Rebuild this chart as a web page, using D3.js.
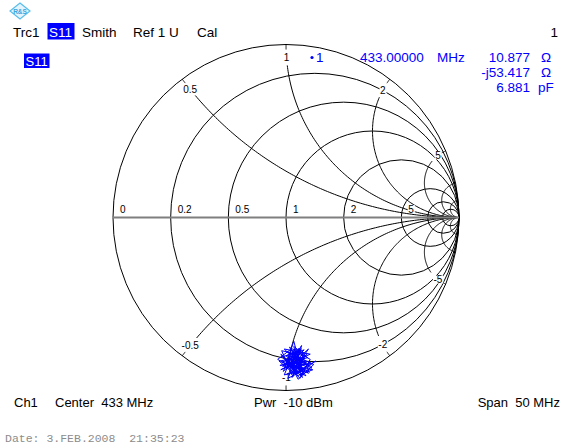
<!DOCTYPE html>
<html><head><meta charset="utf-8">
<script src="https://cdn.jsdelivr.net/npm/d3@7"></script>
<style>
html,body{margin:0;padding:0;background:#fff;}
svg{display:block;font-family:"Liberation Sans",Arial,sans-serif;}
text{white-space:pre;}
</style></head><body>
<svg id="chart" width="579" height="447"></svg>
<script>
// Smith chart grid: normalized resistance circles and reactance arcs
const resistanceCircles = [0.2, 0.5, 1, 2, 5, 10, 20];
const resistanceLabels = [0, 0.2, 0.5, 1, 2, 5];
const reactanceArcs = [0.5, 1, 2, 5, 10, 20, -0.5, -1, -2, -5, -10, -20];
const reactanceLabels = [0.5, 1, 2, 5, -0.5, -1, -2, -5];

// S11 sweep (433 MHz ± 25 MHz), reflection coefficient: real / imaginary part
const traceRe = [0.040,0.110,-0.020,0.090,0.000,0.130,0.060,-0.030,0.080,0.140,0.020,0.100,-0.010,0.050,0.120,0.030,-0.040,0.070,0.150,0.010,0.090,0.040,-0.025,0.110,0.060,0.170,0.125,0.020,0.080,-0.015,0.045,0.065,0.100,-0.048,0.030,0.085,-0.005,0.120,0.015,0.075,0.135,0.050,-0.030,0.095,0.005,0.160,0.070,0.025,0.105,-0.020,0.055,0.115,0.035,0.090,-0.010,0.140,0.060,0.010,0.080,0.045,0.125,-0.035,0.100,0.020,0.065,0.155,0.040,0.085,-0.005,0.110,0.030,0.070,0.130,0.000,0.055,0.095,0.015,0.120,0.045,0.075,-0.025,0.105,0.035,0.085,0.072,0.060,0.025,0.145,0.050,0.010];
const traceIm = [-0.780,-0.850,-0.860,-0.760,-0.800,-0.900,-0.870,-0.790,-0.930,-0.820,-0.750,-0.880,-0.910,-0.760,-0.790,-0.890,-0.830,-0.810,-0.870,-0.870,-0.740,-0.920,-0.770,-0.800,-0.900,-0.830,-0.865,-0.820,-0.780,-0.890,-0.715,-0.790,-0.910,-0.820,-0.760,-0.880,-0.845,-0.835,-0.905,-0.755,-0.895,-0.840,-0.880,-0.820,-0.775,-0.850,-0.935,-0.845,-0.765,-0.805,-0.885,-0.915,-0.800,-0.860,-0.760,-0.790,-0.825,-0.930,-0.895,-0.745,-0.810,-0.855,-0.840,-0.785,-0.915,-0.880,-0.865,-0.770,-0.825,-0.885,-0.905,-0.845,-0.760,-0.880,-0.800,-0.925,-0.840,-0.850,-0.775,-0.865,-0.835,-0.805,-0.925,-0.830,-0.814,-0.770,-0.870,-0.840,-0.905,-0.795];

// Marker 1 readout
const markerFreq = "433.00000";
const markerUnit = "MHz";
const markerR = "10.877";
const markerX = "-j53.417";
const markerC = "6.881";

// Channel settings
const headerItems = ["Trc1", "S11", "Smith", "Ref 1 U", "Cal"];
const footerItems = ["Ch1", "Center  433 MHz", "Pwr  -10 dBm", "Span  50 MHz"];
const dateStamp = "Date: 3.FEB.2008  21:35:23";

const svg = d3.select("#chart");
const sx = d3.scaleLinear().domain([-1, 1]).range([113, 459]);
const sy = d3.scaleLinear().domain([-1, 1]).range([390.5, 44.5]);
const k = sx(1) - sx(0);

const grid = svg.append("g").attr("fill", "none").attr("stroke", "#000").attr("stroke-width", 1);

// outer |Γ| = 1 circle
grid.append("circle").attr("cx", sx(0)).attr("cy", sy(0)).attr("r", k);

// constant-resistance circles
grid.selectAll("circle.r").data(resistanceCircles).join("circle")
  .attr("class", "r")
  .attr("cx", r => sx(r / (1 + r)))
  .attr("cy", sy(0))
  .attr("r", r => k / (1 + r));

// constant-reactance arcs, broken near the rim where a label sits
function arcGeom(x) {
  const cx = 1, cy = 1 / x, rho = 1 / Math.abs(x);
  const gx = (x * x - 1) / (x * x + 1), gy = 2 * x / (x * x + 1);
  const t0 = Math.atan2(gy - cy, gx - cx);
  const t1 = Math.atan2(-cy, 0);
  let d = t1 - t0;
  while (d > Math.PI) d -= 2 * Math.PI;
  while (d <= -Math.PI) d += 2 * Math.PI;
  return {cx, cy, rho, t0, d};
}
function arcPoint(g, s) {
  const t = g.t0 + Math.sign(g.d) * s / (g.rho * k);
  return [g.cx + g.rho * Math.cos(t), g.cy + g.rho * Math.sin(t)];
}
function arcPath(x, s0, s1) {
  const g = arcGeom(x);
  const len = Math.abs(g.d) * g.rho * k;
  const end = s1 == null ? len : s1;
  const pts = d3.range(0, 121).map(i => arcPoint(g, s0 + (end - s0) * i / 120));
  return d3.line().x(p => sx(p[0])).y(p => sy(p[1]))(pts);
}
const labelS = x => Math.abs(x) >= 5 ? 9 : 13;
reactanceArcs.forEach(x => {
  const labelled = reactanceLabels.includes(x);
  if (labelled) {
    grid.append("path").attr("d", arcPath(x, 0, 5));
    grid.append("path").attr("d", arcPath(x, labelS(x) + (x < 0 ? 10 : 8)));
  } else {
    grid.append("path").attr("d", arcPath(x, 0));
  }
});

// real axis
svg.append("line")
  .attr("x1", sx(-1)).attr("x2", sx(1)).attr("y1", sy(0)).attr("y2", sy(0))
  .attr("stroke", "#7f7f7f").attr("stroke-width", 2);

// grid labels, each on a small white patch that masks the grid lines below
const lab = svg.append("g").attr("font-size", 10).attr("fill", "#000");
lab.selectAll("text.r").data(resistanceLabels).join("text")
  .attr("class", "r")
  .attr("x", r => sx((r - 1) / (r + 1)) + 7)
  .attr("y", sy(0) - 5)
  .text(r => r);
lab.selectAll("text.x").data(reactanceLabels).join("text")
  .attr("class", "x")
  .attr("text-anchor", "middle").attr("dominant-baseline", "central")
  .attr("x", x => sx(arcPoint(arcGeom(x), labelS(x))[0]))
  .attr("y", x => sy(arcPoint(arcGeom(x), labelS(x))[1]))
  .text(x => x);
lab.selectAll("text").each(function () {
  const b = this.getBBox();
  lab.insert("rect", "text")
    .attr("x", b.x - 0.5).attr("y", b.y + 1.5)
    .attr("width", b.width + 1).attr("height", b.height - 3)
    .attr("fill", "#fff");
});

// measured trace
const trace = traceRe.map((re, i) => [re, traceIm[i]]);
svg.append("path")
  .attr("d", d3.line().x(p => sx(p[0])).y(p => sy(p[1]))(trace))
  .attr("fill", "none").attr("stroke", "#0000ff").attr("stroke-width", 1)
  .attr("stroke-linejoin", "miter");

// header line
const head = svg.append("g").attr("font-size", 13.5).attr("fill", "#000");
const headX = [13, 49, 82, 133, 197];
headerItems.forEach((t, i) => {
  if (t === "S11") {
    head.append("rect").attr("x", 47.5).attr("y", 23).attr("width", 27).attr("height", 16.5).attr("fill", "#0000ff");
    head.append("text").attr("x", headX[i]).attr("y", 37).attr("fill", "#fff").text(t);
  } else {
    head.append("text").attr("x", headX[i]).attr("y", 37).text(t);
  }
});
head.append("text").attr("x", 558).attr("y", 37).attr("text-anchor", "end").text("1");

// trace label
svg.append("rect").attr("x", 24).attr("y", 53.5).attr("width", 25.5).attr("height", 14.5).attr("fill", "#0000ff");
svg.append("text").attr("x", 25.5).attr("y", 66).attr("font-size", 13).attr("fill", "#fff").text("S11");

// marker readout
const mk = svg.append("g").attr("font-size", 13.5).attr("fill", "#0000ff");
mk.append("circle").attr("cx", 312).attr("cy", 57.5).attr("r", 1.6);
mk.append("text").attr("x", 316).attr("y", 62).text("1");
mk.append("text").attr("x", 360).attr("y", 62).text(markerFreq);
mk.append("text").attr("x", 437).attr("y", 62).text(markerUnit);
[[markerR, "Ω", 62], [markerX, "Ω", 77], [markerC, "pF", 92]].forEach(([v, u, y]) => {
  mk.append("text").attr("x", 530).attr("y", y).attr("text-anchor", "end").text(v);
  mk.append("text").attr("x", u === "pF" ? 538 : 541).attr("y", y).text(u);
});

// footer
const foot = svg.append("g").attr("font-size", 13).attr("fill", "#000");
foot.append("text").attr("x", 14).attr("y", 407).text(footerItems[0]);
foot.append("text").attr("x", 55).attr("y", 407).text(footerItems[1]);
foot.append("text").attr("x", 254).attr("y", 407).text(footerItems[2]);
foot.append("text").attr("x", 560).attr("y", 407).attr("text-anchor", "end").text(footerItems[3]);

svg.append("text").attr("x", 5).attr("y", 442)
  .attr("font-family", "'Liberation Mono', monospace").attr("font-size", 11.5)
  .attr("fill", "#8c8c8c").text(dateStamp);

// R&S logo
const logo = svg.append("g").attr("transform", "translate(20,11)");
logo.append("polygon").attr("points", "0,-8 10,0 0,8 -10,0")
  .attr("fill", "#e3f4fc").attr("stroke", "#58bdea").attr("stroke-width", 1.2);
logo.append("text").attr("text-anchor", "middle").attr("y", 2.5)
  .attr("font-size", 6.5).attr("font-weight", "bold").attr("fill", "#3aa6e0").text("R&S");
</script>
</body></html>
